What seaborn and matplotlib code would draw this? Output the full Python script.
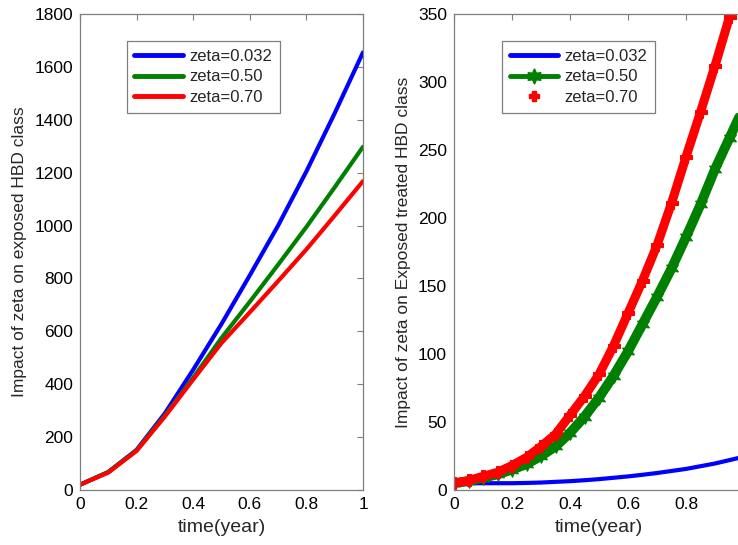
import numpy as np
import pandas as pd
import matplotlib
matplotlib.use("Agg")
import matplotlib.pyplot as plt
import seaborn as sns
from matplotlib.lines import Line2D

# ---------------- data ----------------
t_left = [0.0, 0.1, 0.2, 0.3, 0.4, 0.5, 0.6, 0.7, 0.8, 0.9, 1.0]
exposed_z0032 = [20, 68, 152, 290, 455, 628, 812, 1000, 1205, 1425, 1655]
exposed_z050 = [20, 68, 150, 282, 425, 575, 712, 852, 995, 1145, 1298]
exposed_z070 = [20, 66, 148, 278, 418, 556, 672, 790, 910, 1038, 1168]

t_right = [0.0, 0.05, 0.1, 0.15, 0.2, 0.25, 0.3, 0.35, 0.4, 0.45, 0.5,
           0.55, 0.6, 0.65, 0.7, 0.75, 0.8, 0.85, 0.9, 0.95, 1.0]
treated_z0032 = [5, 5, 5, 5, 5, 5.2, 5.5, 6, 6.5, 7.2, 8,
                 9, 10, 11.2, 12.5, 14, 15.5, 17.5, 19.5, 22, 24.5]
treated_z050 = [5, 6.5, 9, 11.5, 15, 19, 25, 32, 42, 54, 68,
                84, 102, 122, 142, 163, 186, 210, 236, 259, 282]
treated_z070 = [5, 7, 10, 13, 18, 24, 32, 41, 55, 69, 85,
                106, 130, 154, 180, 211, 245, 278, 312, 348, 385]

labels = ["zeta=0.032", "zeta=0.50", "zeta=0.70"]
left_yticks = [0, 200, 400, 600, 800, 1000, 1200, 1400, 1600, 1800]
right_yticks = [0, 50, 100, 150, 200, 250, 300, 350]
xticks = [0, 0.2, 0.4, 0.6, 0.8, 1]

# ---------------- style ----------------
sns.set_theme(style="white")
plt.rcParams["font.family"] = ["Liberation Sans", "DejaVu Sans"]

BLUE, GREEN, RED = "#0000ff", "#008000", "#ff0000"
GRAY = "#7f7f7f"

fig = plt.figure(figsize=(7.38, 5.45), dpi=100)
ax1 = fig.add_axes([0.1084, 0.1009, 0.3835, 0.8734])
ax2 = fig.add_axes([0.6152, 0.1009, 0.3930, 0.8734])

# ---------------- left panel ----------------
dfl = pd.DataFrame({"t": t_left, "a": exposed_z0032, "b": exposed_z050, "c": exposed_z070})
sns.lineplot(data=dfl, x="t", y="a", ax=ax1, color=BLUE, lw=3)
sns.lineplot(data=dfl, x="t", y="b", ax=ax1, color=GREEN, lw=3)
sns.lineplot(data=dfl, x="t", y="c", ax=ax1, color=RED, lw=3)
ax1.set_xlim(0, 1)
ax1.set_ylim(0, 1800)
ax1.set_yticks(left_yticks)
ax1.set_ylabel("Impact of zeta on exposed HBD class", fontsize=12.5, labelpad=5)

# ---------------- right panel ----------------
star6 = (6, 1, 0)
dfr = pd.DataFrame({"t": t_right, "a": treated_z0032, "b": treated_z050, "c": treated_z070})
sns.lineplot(data=dfr, x="t", y="a", ax=ax2, color=BLUE, lw=3)
sns.lineplot(data=dfr, x="t", y="b", ax=ax2, color=GREEN, lw=7,
             marker=star6, markersize=10, markeredgecolor=GREEN, markerfacecolor=GREEN)
sns.lineplot(data=dfr, x="t", y="c", ax=ax2, color=RED, lw=6.5,
             marker="P", markersize=8.5, markeredgecolor=RED, markerfacecolor=RED)
ax2.set_xlim(0, 1)
ax2.set_ylim(0, 350)
ax2.set_yticks(right_yticks)
ax2.set_ylabel("Impact of zeta on Exposed treated HBD class", fontsize=12.5, labelpad=5)

for ax in (ax1, ax2):
    ax.set_xticks(xticks)
    ax.set_xticklabels(["0", "0.2", "0.4", "0.6", "0.8", "1"])
    ax.set_xlabel("time(year)", fontsize=14, labelpad=5)
    ax.tick_params(direction="in", top=True, right=True, length=4, width=0.8,
                   color=GRAY, labelsize=12.5, labelcolor="black", pad=5)
    for sp in ax.spines.values():
        sp.set_color(GRAY)
        sp.set_linewidth(0.9)

# ---------------- legends ----------------
leg_kw = dict(loc="upper left", fontsize=12, frameon=True, fancybox=False,
              edgecolor=GRAY, framealpha=1, handlelength=2.9, handletextpad=0.4,
              labelspacing=0.35, borderpad=0.45, borderaxespad=0)
h1 = [Line2D([], [], color=BLUE, lw=3.5),
      Line2D([], [], color=GREEN, lw=3.5),
      Line2D([], [], color=RED, lw=3.5)]
lg1 = ax1.legend(h1, labels, bbox_to_anchor=(0.166, 0.943), **leg_kw)
lg1.get_frame().set_linewidth(0.9)

h2 = [Line2D([], [], color=BLUE, lw=3.5),
      Line2D([], [], color=GREEN, lw=3.5, marker=star6, markersize=11),
      Line2D([], [], color=RED, lw=0, marker="P", markersize=7)]
lg2 = ax2.legend(h2, labels, bbox_to_anchor=(0.1655, 0.943), **leg_kw)
lg2.get_frame().set_linewidth(0.9)

fig.savefig("out.png", dpi=100)
